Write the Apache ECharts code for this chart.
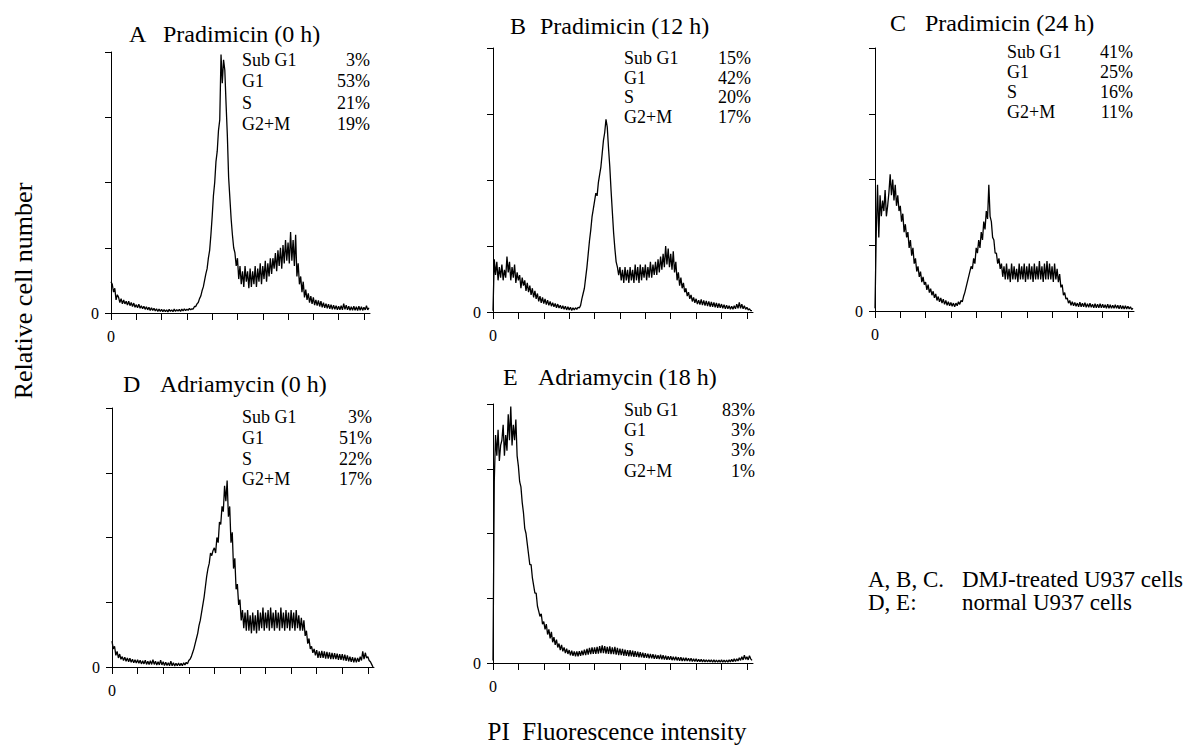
<!DOCTYPE html>
<html>
<head>
<meta charset="utf-8">
<script src="https://cdn.jsdelivr.net/npm/echarts@6/dist/echarts.min.js"></script>
<style>
html,body{margin:0;padding:0;background:#fff;}
#c{width:1193px;height:747px;}
</style>
</head>
<body>
<div id="c"></div>
<script>
// histogram channel width (PI fluorescence channels), 205 channels 0..1020
var channelStep = 5;
var xTicks = [0, 100, 200, 300, 400, 500, 600, 700, 800, 900, 1000];
var yTicks = [0, 25, 50, 75, 100];

var panelTitles = ['Pradimicin (0 h)', 'Pradimicin (12 h)', 'Pradimicin (24 h)', 'Adriamycin (0 h)', 'Adriamycin (18 h)'];
var panelLetters = ['A', 'B', 'C', 'D', 'E'];
var phaseNames = ['Sub G1', 'G1', 'S', 'G2+M'];
var phaseA = ['3%', '53%', '21%', '19%'];
var phaseB = ['15%', '42%', '20%', '17%'];
var phaseC = ['41%', '25%', '16%', '11%'];
var phaseD = ['3%', '51%', '22%', '17%'];
var phaseE = ['83%', '3%', '3%', '1%'];

var countsA = [
  12,11,8,9.5,5,7,6,4,5.5,3.5,5,3.5,4.5,3,4.5,2.8,4,2.5,3.8,2.2,
  3.2,2,3.4,1.8,2.8,1.6,2.6,1.4,2.4,1.2,2.2,1,2,1,1.8,0.8,1.6,0.6,1.5,0.6,
  1.4,0.5,1.3,0.5,1.2,0.4,1.4,0.6,1.2,0.5,1.5,0.6,1.3,0.7,1.4,0.6,1.5,0.8,1.6,0.9,
  1.5,1,1.8,1.2,1.6,1.5,2.5,2.5,3.5,4,5.5,6.5,8.5,10,12.5,15,17,21,24,30,
  37,45,50,58,62,70,74,99,88,97,93,80,68,52,44,36,30,25,23,18,
  21,13,18,11,16,10,18,12,16,9.5,17,10,16,11,18,10,17,12,19,11,
  18,13,20,12,19,14,21,15,21,17,23,16,24,18,25,17,26,19,28,20,
  27,19,31,20,28,18,30,14,19,11,14,8,12,6,9,5,7.5,4,6.5,3.5,
  6,3,5,2.8,4.8,2.5,4.5,2.2,4,2,3.6,1.8,3.4,1.6,3.2,1.4,3,1.4,2.8,1.2,
  2.6,1.2,2.8,1.2,3.6,1.4,3,1.2,2.6,1,2.4,1,2.6,1,2.4,0.9,2.6,1,2.4,1,
  2.2,1.2,2.8,1.2,2];
var countsB = [
  0.5,20,14,19,12,17,13,18,12,16,13,21,15,19,12,17,13,18,11,15,
  12,14,9,13,10,12,8,11,7.5,10,6.5,9,5.5,8,5,7,4,6,3.5,5.5,
  3.2,5,2.8,4.5,2.5,4,2.2,3.5,2,3.2,1.6,3,1.5,2.6,1.2,2.4,1,2.2,0.8,2,
  0.8,1.8,0.6,1.6,0.8,1.6,1,1.8,1.5,2.5,5,7,9,13,17,22,27,31,36,39,
  42,45,44,49,52,55,60,65,68,73,70,62,55,46,38,30,24,19,17,14,
  17,12,16,11,17,12,16,11,17,12,16,11,18,12,17,11,18,12,17,13,
  18,12,17,13,19,13,18,14,19,14,20,15,21,16,22,17,25,18,24,17,
  22,16,23,15,19,12,15,10,13,9,11,7.5,9,6,7.5,5,6.5,4,5.5,3.5,
  5,3,4.5,2.8,4.8,2.6,4.4,2.4,4.2,2.2,4,2,3.8,2,3.6,1.8,3.4,1.6,3.2,1.6,
  3,1.4,2.8,1.2,2.6,1.2,2.4,1,2.2,1,2.4,1.2,3,1.4,3.6,1.4,3,1.2,2.4,1,
  1.8,0.8,1.2,0.5,0.5];
var countsC = [
  1,30,48,28,44,36,42,38,46,36,40,45,52,44,50,42,48,40,44,38,
  40,34,37,30,33,28,30,24,27,21,24,18,20,15,17,13,15,11,13,10,
  11,8,10,7,8.5,6,7.5,5,6.5,4,5.5,3.5,5,3,4.5,2.5,4,2.2,3.5,2,
  3.2,1.8,3,1.6,3,2,3.5,2.5,4,3.5,5.5,7,9,11,13,15,17,16,20,18,
  24,22,27,24,30,27,34,31,38,35,48,36,34,28,27,22,22,18,20,16,
  18,13,17,12,18,12,16,11,18,12,17,12,16,11,18,12,17,12,18,11,
  17,12,18,12,17,11,18,12,17,12,19,12,17,11,18,12,19,12,18,12,
  17,11,18,12,16,11,14,9,10,6,7,4.5,5,3,4,2.2,3.5,2,3.2,1.8,
  3,1.6,3.4,1.6,3,1.6,3.2,1.4,2.8,1.4,3,1.4,2.6,1.2,2.8,1.2,2.6,1.2,2.8,1.2,
  2.6,1.2,2.4,1,2.6,1,2.4,1,2.2,1,2.4,1,2.2,0.8,2.2,0.8,2,0.8,2,0.8,
  1.8,0.8,1.6,0.6,1];
var countsD = [
  10,7,8,4.5,6,3.5,5,3,4,2.5,3.8,2.2,3.5,2,3.4,1.8,3,1.6,2.8,1.5,
  2.8,1.4,2.6,1.2,2.4,1.2,2.6,1,2.2,1,2.4,1,2.8,1,2.2,0.8,2,0.8,2.6,0.8,
  2,0.6,1.8,0.6,1.6,0.5,2.2,0.5,1.6,0.4,1.4,0.5,1.5,0.5,1.4,0.5,1.6,0.8,1.8,1.2,
  2.5,3,4,5.5,7,9,11,13,16,18,21,24,27,31,35,38,40,44,43,45,
  46,44,50,48,56,55,62,60,70,64,72,58,62,48,52,38,42,30,32,24,
  26,18,22,15,21,14,22,14,20,13,21,14,20,13,22,14,21,15,23,14,
  21,15,22,14,23,15,21,14,22,15,21,14,23,15,21,14,22,15,21,14,
  22,15,21,14,22,15,20,14,19,14,18,12,14,9,11,7,8,5.5,7,4.5,
  6.5,3.5,6,3.5,6.2,3.5,6,3.2,5.8,3.2,5.6,3,5.5,3,5.4,3,5.2,2.8,5,2.8,
  5,2.6,4.8,2.4,4.5,2.2,4,2,3.8,1.8,3.6,1.8,3.5,2,4,2.5,6,3,5.5,3.5,
  4,2.5,2,1,0];
var countsE = [
  1,70,88,80,90,78,84,86,92,80,88,82,96,86,99,84,92,86,94,80,
  76,70,68,62,58,52,50,46,42,38,38,33,30,27,27,22,20,18,19,15,
  16,13,15,11,13,9.5,12,8,10,7,9,6,7.5,5,7,4.5,6,3.8,5.5,3.5,
  5,3,4.8,2.8,4.5,2.6,4.5,2.6,4.6,2.8,4.8,3,5.2,3,5.5,3.2,5.8,3.4,6,3.5,
  6,3.5,6.2,3.6,6.5,3.8,6.8,3.8,6.5,3.6,6.2,3.5,6.4,3.4,6,3.4,6.2,3.2,5.8,3,
  5.6,3,5.5,2.8,5.2,2.8,5,2.6,5,2.6,4.8,2.4,4.6,2.4,4.4,2.2,4.2,2.2,4,2,
  3.8,2,3.6,1.8,3.5,1.8,3.4,1.6,3.2,1.6,3,1.5,3.2,1.4,3,1.3,2.8,1.2,2.6,1.2,
  2.6,1.1,2.4,1,2.4,1,2.2,0.9,2.2,0.8,2,0.8,2,0.8,1.8,0.7,1.8,0.6,1.6,0.6,
  1.6,0.5,1.4,0.5,1.4,0.4,1.3,0.4,1.2,0.4,1.2,0.4,1.2,0.3,1.2,0.3,1.1,0.3,1.1,0.3,
  1.2,0.3,1.1,0.3,1.1,0.3,1.2,0.4,1.4,0.5,1.6,0.6,1.6,0.8,2,1,2.4,1.2,3,1.4,
  2.4,1.2,2.8,1.6,1];

var allCounts = [countsA, countsB, countsC, countsD, countsE];
var allPhases = [phaseA, phaseB, phaseC, phaseD, phaseE];

// layout (pixels)
var grids = [
  {left:111, top:52, width:259, height:261},
  {left:493, top:48, width:260, height:264},
  {left:875, top:48, width:259, height:263},
  {left:112, top:408, width:262, height:259},
  {left:493, top:404, width:260, height:259}
];
var titlePos = [
  {lx:129, tx:163, y:34},
  {lx:510, tx:540, y:26},
  {lx:890, tx:925, y:23},
  {lx:123, tx:160, y:384},
  {lx:503, tx:538, y:377}
];
var annoPos = [
  {x:242, r:370, ys:[60,81,103,124]},
  {x:624, r:751, ys:[58,78,97,117]},
  {x:1007, r:1133, ys:[52,72,92,112]},
  {x:242, r:372, ys:[417,438,459,479]},
  {x:624, r:755, ys:[410,430,450,471]}
];

var serif = "'Liberation Serif', 'Times New Roman', serif";
var chart = echarts.init(document.getElementById('c'), null, {renderer:'svg'});

var xAxes = [], yAxes = [], series = [], graphics = [];
grids.forEach(function(g, k){
  xAxes.push({
    type:'value', gridIndex:k, min:0, max:1024,
    axisLine:{show:true, onZero:false, lineStyle:{color:'#000', width:1}},
    axisTick:{show:true, inside:false, length:7, customValues:xTicks, lineStyle:{color:'#000', width:1}},
    axisLabel:{show:true, customValues:[0], margin:15, color:'#000', fontFamily:serif, fontSize:16},
    splitLine:{show:false}
  });
  yAxes.push({
    type:'value', gridIndex:k, min:0, max:100, interval:25,
    axisLine:{show:true, lineStyle:{color:'#000', width:1}},
    axisTick:{show:true, length:6, customValues:yTicks, lineStyle:{color:'#000', width:1}},
    axisLabel:{show:true, customValues:[0], margin:12, color:'#000', fontFamily:serif, fontSize:16},
    splitLine:{show:false}
  });
  series.push({
    type:'line', xAxisIndex:k, yAxisIndex:k, showSymbol:false, symbol:'none',
    animation:false, silent:true,
    lineStyle:{color:'#000', width:1.3},
    data: allCounts[k].map(function(v, i){ return [i*channelStep, v]; })
  });
  var tp = titlePos[k];
  graphics.push({type:'text', x:tp.lx, y:tp.y, style:{text:panelLetters[k], font:'24px '+serif, fill:'#000', align:'left', verticalAlign:'middle'}});
  graphics.push({type:'text', x:tp.tx, y:tp.y, style:{text:panelTitles[k], font:'24px '+serif, fill:'#000', align:'left', verticalAlign:'middle'}});
  var ap = annoPos[k];
  phaseNames.forEach(function(n, j){
    graphics.push({type:'text', x:ap.x, y:ap.ys[j], style:{text:n, font:'18px '+serif, fill:'#000', align:'left', verticalAlign:'middle'}});
    graphics.push({type:'text', x:ap.r, y:ap.ys[j], style:{text:allPhases[k][j], font:'18px '+serif, fill:'#000', align:'right', verticalAlign:'middle'}});
  });
});

graphics.push({type:'text', x:23, y:291, rotation:Math.PI/2, style:{text:'Relative cell number', font:'26px '+serif, fill:'#000', align:'center', verticalAlign:'middle'}});
graphics.push({type:'text', x:617, y:731, style:{text:'PI  Fluorescence intensity', font:'25px '+serif, fill:'#000', align:'center', verticalAlign:'middle'}});
graphics.push({type:'text', x:868, y:579, style:{text:'A, B, C.', font:'23px '+serif, fill:'#000', align:'left', verticalAlign:'middle'}});
graphics.push({type:'text', x:962, y:579, style:{text:'DMJ-treated U937 cells', font:'23px '+serif, fill:'#000', align:'left', verticalAlign:'middle'}});
graphics.push({type:'text', x:868, y:602, style:{text:'D, E:', font:'23px '+serif, fill:'#000', align:'left', verticalAlign:'middle'}});
graphics.push({type:'text', x:962, y:602, style:{text:'normal U937 cells', font:'23px '+serif, fill:'#000', align:'left', verticalAlign:'middle'}});

chart.setOption({
  backgroundColor:'#fff',
  animation:false,
  grid: grids,
  xAxis: xAxes,
  yAxis: yAxes,
  series: series,
  graphic: graphics
});
</script>
</body>
</html>
